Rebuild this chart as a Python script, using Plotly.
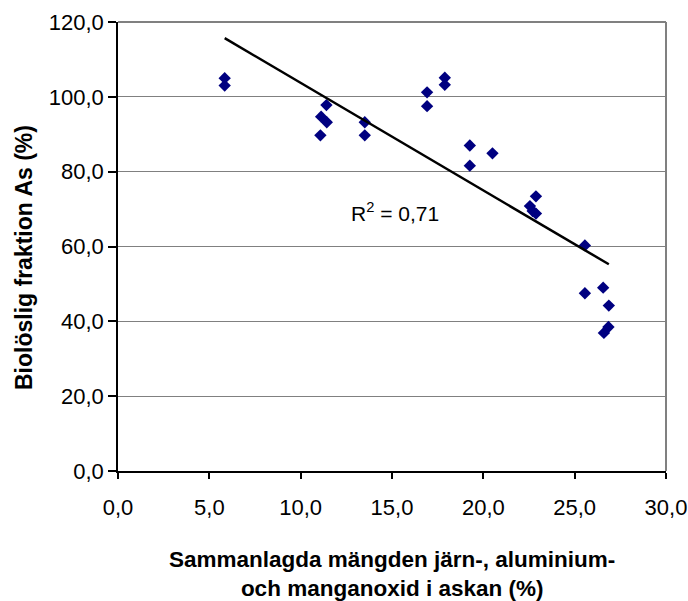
import numpy as np
import plotly.graph_objects as go

# Data
oxide_pct = [5.84, 5.84, 11.12, 11.43, 11.41, 11.08, 13.51, 13.51,
             16.92, 16.92, 17.89, 17.89, 19.26, 19.26, 20.50,
             22.88, 22.55, 22.70, 22.88, 25.56, 25.56, 26.56, 26.87, 26.60, 26.85]
bio_as_pct = [105.0, 103.0, 94.7, 93.2, 97.8, 89.7, 93.2, 89.7,
              101.2, 97.5, 105.1, 103.2, 87.0, 81.6, 84.9,
              73.4, 70.8, 69.5, 68.8, 60.3, 47.5, 49.0, 44.2, 36.9, 38.5]
x_ticks = [0, 5, 10, 15, 20, 25, 30]
y_ticks = [0, 20, 40, 60, 80, 100, 120]
r2_text = "R<sup>2</sup> = 0,71"
x_title = "Sammanlagda mängden järn-, aluminium-<br>och manganoxid i askan (%)"
y_title = "Biolöslig fraktion As (%)"

x = np.array(oxide_pct)
y = np.array(bio_as_pct)
slope, intercept = np.polyfit(x, y, 1)
xf = np.array([x.min(), x.max()])
yf = slope * xf + intercept

FONT = "Liberation Sans, Arial, sans-serif"
W, H = 688, 601
ML, MR, MT, MB = 118, 22, 22, 130
plot_w = W - ML - MR
plot_h = H - MT - MB

fig = go.Figure()
fig.add_trace(go.Scatter(x=oxide_pct, y=bio_as_pct, mode="markers",
                         marker=dict(symbol="diamond", size=9.5, color="#000080",
                                     line=dict(width=0)),
                         showlegend=False))
fig.add_trace(go.Scatter(x=xf, y=yf, mode="lines",
                         line=dict(color="black", width=2.5), showlegend=False))

fig.update_layout(
    template="none",
    width=W, height=H,
    margin=dict(l=ML, r=MR, t=MT, b=MB, pad=0),
    plot_bgcolor="white", paper_bgcolor="white",
    separators=", ",
    font=dict(family=FONT, color="black", size=22),
    xaxis=dict(range=[0, 30], tickvals=x_ticks, tickformat=".1f", automargin=False,
               showgrid=False, zeroline=False, showline=True, linecolor="black",
               linewidth=1.5, ticks="outside", ticklen=6, tickcolor="black",
               tickwidth=1.5, ticklabelstandoff=10,
               tickfont=dict(size=22, family=FONT)),
    yaxis=dict(range=[0, 120], tickvals=y_ticks, tickformat=".1f", automargin=False,
               showgrid=True, gridcolor="#808080", gridwidth=1, zeroline=False,
               showline=True, linecolor="black", linewidth=1.5,
               ticks="outside", ticklen=8, tickcolor="black", tickwidth=1.5,
               tickfont=dict(size=22, family=FONT)),
    shapes=[
        dict(type="line", xref="paper", yref="paper", x0=0, x1=1, y0=1, y1=1,
             line=dict(color="#808080", width=2)),
        dict(type="line", xref="paper", yref="paper", x0=1, x1=1, y0=0, y1=1,
             line=dict(color="#808080", width=2)),
    ],
    annotations=[
        dict(text=r2_text, x=12.65, y=69.1, xref="x", yref="y", xanchor="left",
             yanchor="middle", showarrow=False, font=dict(size=21, family=FONT)),
        dict(text="<b>" + x_title + "</b>", x=0.5, y=(H - MB - 574) / plot_h,
             xref="paper", yref="paper", xanchor="center", yanchor="middle",
             showarrow=False, font=dict(size=22.5, family=FONT)),
        dict(text="<b>" + y_title + "</b>", x=(24 - ML) / plot_w,
             y=(H - MB - 258) / plot_h, xref="paper", yref="paper",
             xanchor="center", yanchor="middle",
             textangle=-90, showarrow=False, font=dict(size=23, family=FONT)),
    ],
)

fig.write_html("out.html")
